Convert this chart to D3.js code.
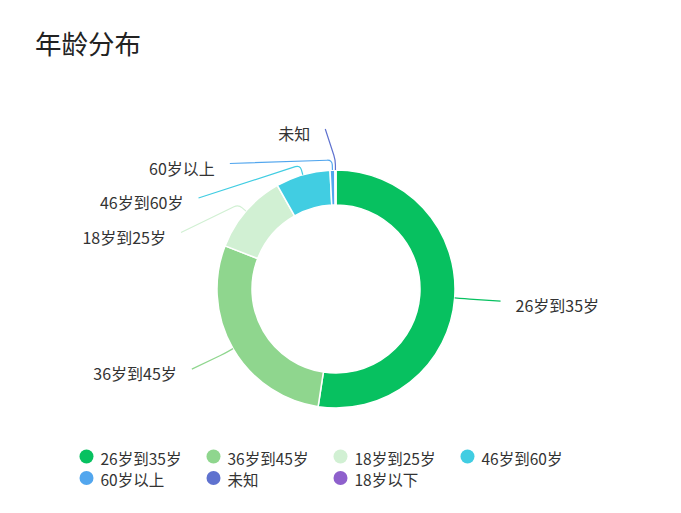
<!DOCTYPE html>
<html>
<head>
<meta charset="utf-8">
<script src="https://cdn.jsdelivr.net/npm/d3@7/dist/d3.min.js"></script>
<style>
  body { margin: 0; background: #fff; }
  text { font-family: "Noto Sans CJK SC", "Noto Sans", sans-serif; }
</style>
</head>
<body>
<div id="chart"></div>
<script>
var width = 681, height = 513;

// data
var ageGroups = ["26岁到35岁", "36岁到45岁", "18岁到25岁", "46岁到60岁", "60岁以上", "未知", "18岁以下"];
var counts = [1048, 570, 218, 148, 13, 3, 0];
var colors = ["#07c160", "#8fd68e", "#d1f0d3", "#41cde2", "#52a6ee", "#5f72cf", "#8e60cc"];

var cx = 336, cy = 289,
    outerR = 119, innerR = 84,
    elbowR = 129,            // end of first label line segment
    labelRX = 155, labelRY = 160,
    len2 = 10, labelGap = 34.5, textPad = 15;

var svg = d3.select("#chart").append("svg")
    .attr("width", width)
    .attr("height", height);

svg.append("text")
    .attr("x", 35)
    .attr("y", 54)
    .attr("font-size", 26.5)
    .attr("fill", "#222")
    .text("年龄分布");

var rows = ageGroups.map(function (d, i) { return { name: d, value: counts[i], color: colors[i] }; });

var pie = d3.pie()
    .sort(null)
    .value(function (d) { return d.value; });

var arcs = pie(rows);

var arc = d3.arc()
    .innerRadius(innerR)
    .outerRadius(outerR);

var g = svg.append("g")
    .attr("transform", "translate(" + cx + "," + cy + ")");

g.selectAll(".slice")
    .data(arcs.filter(function (d) { return d.value > 0; }))
    .enter().append("path")
    .attr("class", "slice")
    .attr("d", arc)
    .attr("fill", function (d) { return d.data.color; })
    .attr("stroke", "#fff")
    .attr("stroke-width", 1.5);

// label layout: natural spot on an ellipse, then push overlapping labels down
var labels = arcs.filter(function (d) { return d.value > 0; }).map(function (d) {
    var a = (d.startAngle + d.endAngle) / 2;
    var dir = Math.sin(a) < 0 ? -1 : 1;
    return {
        d: d, a: a, dir: dir,
        y: cy - labelRY * Math.cos(a),
        x: cx + labelRX * Math.sin(a) + dir * len2,
        dx0: labelRX * Math.sin(a)
    };
});

[-1, 1].forEach(function (dir) {
    var side = labels.filter(function (l) { return l.dir === dir; })
        .sort(function (p, q) { return p.y - q.y; });
    if (side.length < 2) return;
    var shifted = false;
    for (var i = 1; i < side.length; i++) {
        if (side[i].y < side[i - 1].y + labelGap) {
            side[i].y = side[i - 1].y + labelGap;
            shifted = true;
        }
    }
    if (!shifted) return;
    [side.filter(function (l) { return l.y <= cy; }), side.filter(function (l) { return l.y > cy; })]
        .forEach(function (semi) {
            if (!semi.length) return;
            var top = semi.reduce(function (m, l) { return Math.abs(l.y - cy) > Math.abs(m.y - cy) ? l : m; });
            var dy0 = Math.abs(top.y - cy);
            var rB = Math.abs(top.dx0) < labelRX
                ? Math.sqrt(dy0 * dy0 / (1 - top.dx0 * top.dx0 / (labelRX * labelRX)))
                : labelRX;
            semi.forEach(function (l) {
                var dy = Math.abs(l.y - cy);
                l.x = cx + dir * (Math.sqrt(Math.max(0, 1 - dy * dy / (rB * rB))) * labelRX + len2);
            });
        });
});

function linePath(l) {
    var A = [cx + outerR * Math.sin(l.a), cy - outerR * Math.cos(l.a)],
        B = [cx + elbowR * Math.sin(l.a), cy - elbowR * Math.cos(l.a)],
        C = [l.x, l.y];
    var ab = Math.hypot(B[0] - A[0], B[1] - A[1]),
        bc = Math.hypot(C[0] - B[0], C[1] - B[1]);
    var k = Math.min(5, ab * 0.6, bc * 0.5);
    var p = d3.path();
    p.moveTo(A[0], A[1]);
    p.lineTo(B[0] - (B[0] - A[0]) / ab * k, B[1] - (B[1] - A[1]) / ab * k);
    p.quadraticCurveTo(B[0], B[1], B[0] + (C[0] - B[0]) / bc * k, B[1] + (C[1] - B[1]) / bc * k);
    p.lineTo(C[0], C[1]);
    return p.toString();
}

svg.selectAll(".label-line")
    .data(labels)
    .enter().append("path")
    .attr("class", "label-line")
    .attr("d", linePath)
    .attr("fill", "none")
    .attr("stroke", function (l) { return l.d.data.color; })
    .attr("stroke-width", 1.2);

svg.selectAll(".label")
    .data(labels)
    .enter().append("text")
    .attr("class", "label")
    .attr("x", function (l) { return l.x + l.dir * textPad; })
    .attr("y", function (l) { return l.y + 4; })
    .attr("dominant-baseline", "central")
    .attr("text-anchor", function (l) { return l.dir < 0 ? "end" : "start"; })
    .attr("font-size", 16)
    .attr("fill", "#333")
    .text(function (l) { return l.d.data.name; });

// legend
var legendCol = d3.scaleLinear().domain([0, 1]).range([86.5, 213.5]);
var legendRow = d3.scaleLinear().domain([0, 1]).range([456.5, 478]);

var legend = svg.selectAll(".legend")
    .data(rows)
    .enter().append("g")
    .attr("class", "legend")
    .attr("transform", function (d, i) {
        return "translate(" + legendCol(i % 4) + "," + legendRow(Math.floor(i / 4)) + ")";
    });

legend.append("circle")
    .attr("r", 7)
    .attr("fill", function (d) { return d.color; });

legend.append("text")
    .attr("x", 14)
    .attr("y", 1)
    .attr("dominant-baseline", "central")
    .attr("font-size", 15.5)
    .attr("fill", "#333")
    .text(function (d) { return d.name; });
</script>
</body>
</html>
